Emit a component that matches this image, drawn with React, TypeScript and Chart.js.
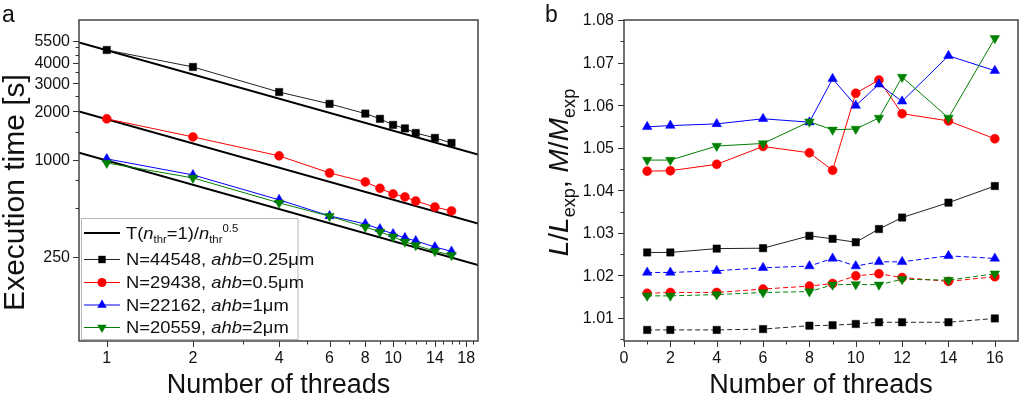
import React, { useEffect, useRef } from 'react';
import { Chart, registerables } from 'chart.js';
Chart.register(...registerables);

const FONT = '"Liberation Sans", Arial, Helvetica, sans-serif';

// ---------- Panel a: execution time ----------
const threadsA = [1, 2, 4, 6, 8, 9, 10, 11, 12, 14, 16];
const timeN44548 = [4820, 3780, 2640, 2230, 1940, 1800, 1650, 1570, 1470, 1370, 1275];
const timeN29438 = [1800, 1390, 1060, 830, 730, 666, 615, 589, 556, 510, 482];
const timeN22162 = [1015, 807, 565, 449, 400, 372, 347, 328, 314, 288, 270];
const timeN20559 = [958, 773, 541, 447, 383, 357, 333, 310, 295, 271, 256];
const idealT1 = [4800, 1790, 990];
const idealExponent = 0.5;
const xRangeA = [0.8, 19.8];
const yRangeA = [75, 7400];
const xTicksMajorA = [1, 2, 4, 6, 8, 10, 14, 18];
const xTicksMinorA = [3, 5, 7, 9, 11, 12, 13, 15, 16, 17, 19];
const yTicksMajorA = [250, 1000, 2000, 3000, 4000, 5500];
const yTicksMinorA = [500, 750, 1500, 2500, 3500, 4500, 5000];

// ---------- Panel b: L/Lexp (solid), M/Mexp (dashed) ----------
const threadsB = [1, 2, 4, 6, 8, 9, 10, 11, 12, 14, 16];
const L_N44548 = [1.0254, 1.0254, 1.0263, 1.0264, 1.0293, 1.0286, 1.0278, 1.0309, 1.0336, 1.0371, 1.041];
const L_N29438 = [1.0445, 1.0446, 1.0461, 1.0503, 1.0488, 1.0447, 1.0628, 1.0659, 1.058, 1.0563, 1.0521];
const L_N22162 = [1.0549, 1.0552, 1.0556, 1.0568, 1.056, 1.0662, 1.0599, 1.0649, 1.0609, 1.0716, 1.0681];
const L_N20559 = [1.0471, 1.0471, 1.0504, 1.051, 1.0561, 1.0542, 1.0544, 1.057, 1.0666, 1.057, 1.0757];
const M_N44548 = [1.0072, 1.0072, 1.0072, 1.0074, 1.0082, 1.0083, 1.0086, 1.009, 1.009, 1.009, 1.0099];
const M_N29438 = [1.0158, 1.016, 1.016, 1.0168, 1.0175, 1.0181, 1.0199, 1.0204, 1.0195, 1.0186, 1.0197];
const M_N22162 = [1.0207, 1.0207, 1.0211, 1.0218, 1.0222, 1.024, 1.0222, 1.0232, 1.0232, 1.0246, 1.024];
const M_N20559 = [1.0152, 1.0152, 1.0155, 1.016, 1.0162, 1.0178, 1.0179, 1.0178, 1.0191, 1.0189, 1.0204];
const xRangeB = [0, 17];
const yRangeB = [1.0046, 1.08];
const xTicksMajorB = [0, 2, 4, 6, 8, 10, 12, 14, 16];
const xTicksMinorB = [1, 3, 5, 7, 9, 11, 13, 15, 17];
const yTicksMajorB = [1.01, 1.02, 1.03, 1.04, 1.05, 1.06, 1.07, 1.08];
const yTicksMinorB = [1.005, 1.015, 1.025, 1.035, 1.045, 1.055, 1.065, 1.075];

const BLACK = '#000000';
const RED = '#ff0000';
const BLUE = '#0000ff';
const GREEN = '#008000';

const seriesStyle = [
  { color: BLACK, line: '#222222', pointStyle: 'rect', radius: 5.2, rotation: 0 },
  { color: RED, line: RED, pointStyle: 'circle', radius: 4.5, rotation: 0 },
  { color: BLUE, line: BLUE, pointStyle: 'triangle', radius: 5.5, rotation: 0 },
  { color: GREEN, line: GREEN, pointStyle: 'triangle', radius: 5.5, rotation: 180 },
];

type Seg = { t: string; it?: boolean; sub?: boolean; sup?: boolean };

function drawRich(
  ctx: CanvasRenderingContext2D, segs: Seg[], x: number, y: number, size: number,
  align: 'left' | 'center', smallRatio = 0.65, sx = 1
) {
  const small = size * smallRatio;
  const fontFor = (s: Seg) => `${s.it ? 'italic ' : ''}${s.sub || s.sup ? small : size}px ${FONT}`;
  let total = 0;
  const widths = segs.map((s) => {
    ctx.font = fontFor(s);
    const w = ctx.measureText(s.t).width;
    total += w;
    return w;
  });
  ctx.save();
  ctx.translate(x, y);
  ctx.scale(sx, 1);
  let cx = align === 'center' ? -total / 2 : 0;
  ctx.textAlign = 'left';
  ctx.textBaseline = 'alphabetic';
  segs.forEach((s, i) => {
    ctx.font = fontFor(s);
    const dy = s.sub ? size * 0.25 : s.sup ? -size * 0.42 : 0;
    ctx.fillText(s.t, cx, dy);
    cx += widths[i];
  });
  ctx.restore();
}

function drawMarker(ctx: CanvasRenderingContext2D, idx: number, x: number, y: number) {
  const st = seriesStyle[idx];
  ctx.fillStyle = st.color;
  ctx.beginPath();
  if (st.pointStyle === 'rect') {
    const s = st.radius * Math.SQRT1_2;
    ctx.rect(x - s, y - s, 2 * s, 2 * s);
  } else if (st.pointStyle === 'circle') {
    ctx.arc(x, y, st.radius, 0, Math.PI * 2);
  } else {
    const r = st.radius;
    const sgn = st.rotation ? -1 : 1;
    ctx.moveTo(x, y - sgn * r);
    ctx.lineTo(x + r * 0.866, y + sgn * r * 0.5);
    ctx.lineTo(x - r * 0.866, y + sgn * r * 0.5);
    ctx.closePath();
  }
  ctx.fill();
}

function drawAxesDecor(
  chart: any,
  xMaj: number[], xMin: number[], yMaj: number[], yMin: number[],
  xFmt: (v: number) => string, yFmt: (v: number) => string, yLabelGap: number
) {
  const { ctx, chartArea: a, scales } = chart;
  const x = scales.x;
  const y = scales.y;
  ctx.save();
  ctx.strokeStyle = '#333';
  ctx.lineWidth = 1;
  ctx.beginPath();
  xMaj.forEach((v) => { const p = Math.round(x.getPixelForValue(v)) + 0.5; ctx.moveTo(p, a.bottom); ctx.lineTo(p, a.bottom + 6); });
  xMin.forEach((v) => { const p = Math.round(x.getPixelForValue(v)) + 0.5; if (p < a.right - 1) { ctx.moveTo(p, a.bottom); ctx.lineTo(p, a.bottom + 3.5); } });
  yMaj.forEach((v) => { const p = Math.round(y.getPixelForValue(v)) + 0.5; ctx.moveTo(a.left, p); ctx.lineTo(a.left - 6, p); });
  yMin.forEach((v) => { const p = Math.round(y.getPixelForValue(v)) + 0.5; ctx.moveTo(a.left, p); ctx.lineTo(a.left - 3.5, p); });
  ctx.stroke();
  ctx.strokeStyle = '#444';
  ctx.lineWidth = 1.5;
  ctx.strokeRect(a.left, a.top, a.right - a.left, a.bottom - a.top);
  ctx.fillStyle = '#111';
  ctx.font = `16px ${FONT}`;
  ctx.textAlign = 'center';
  ctx.textBaseline = 'middle';
  xMaj.forEach((v) => ctx.fillText(xFmt(v), x.getPixelForValue(v), a.bottom + 18));
  ctx.textAlign = 'right';
  yMaj.forEach((v) => ctx.fillText(yFmt(v), a.left - yLabelGap, y.getPixelForValue(v) + 1));
  ctx.restore();
}

const decoA = {
  id: 'decoA',
  afterDraw(chart: any) {
    const { ctx, chartArea: a } = chart;
    drawAxesDecor(chart, xTicksMajorA, xTicksMinorA, yTicksMajorA, yTicksMinorA, (v) => String(v), (v) => String(v), 9);
    ctx.save();
    ctx.fillStyle = '#111';
    // panel letter
    ctx.font = `23px ${FONT}`;
    ctx.textAlign = 'left';
    ctx.textBaseline = 'alphabetic';
    ctx.fillText('a', 2, 22);
    // x title
    ctx.font = `27px ${FONT}`;
    ctx.textAlign = 'center';
    ctx.fillText('Number of threads', (a.left + a.right) / 2, 393);
    // y title
    ctx.save();
    ctx.translate(24, 192.5);
    ctx.rotate(-Math.PI / 2);
    ctx.font = `30px ${FONT}`;
    ctx.textAlign = 'center';
    ctx.fillText('Execution time [s]', 0, 0);
    ctx.restore();
    // legend
    const lx = 81.5, ly = 218.5, lw = 216.5, lh = 121;
    ctx.fillStyle = '#ffffff';
    ctx.fillRect(lx, ly, lw, lh);
    ctx.strokeStyle = '#b8b8b8';
    ctx.lineWidth = 1;
    ctx.strokeRect(lx, ly, lw, lh);
    const rows = [233, 259, 282, 304.5, 327];
    ctx.fillStyle = '#111';
    ctx.strokeStyle = '#000';
    ctx.lineWidth = 2;
    ctx.beginPath();
    ctx.moveTo(84, rows[0]);
    ctx.lineTo(120, rows[0]);
    ctx.stroke();
    drawRich(ctx, [
      { t: 'T(' }, { t: 'n', it: true }, { t: 'thr', sub: true }, { t: '=1)/' },
      { t: 'n', it: true }, { t: 'thr', sub: true }, { t: '0.5', sup: true },
    ], 126, rows[0] + 6, 17, 'left', 0.62, 1.08);
    const labels = [
      ['N=44548, ', '=0.25\u03BCm'],
      ['N=29438, ', '=0.5\u03BCm'],
      ['N=22162, ', '=1\u03BCm'],
      ['N=20559, ', '=2\u03BCm'],
    ];
    labels.forEach((lab, i) => {
      const yy = rows[i + 1];
      ctx.strokeStyle = seriesStyle[i].line;
      ctx.lineWidth = 1;
      ctx.beginPath();
      ctx.moveTo(84, yy + 0.5);
      ctx.lineTo(120, yy + 0.5);
      ctx.stroke();
      drawMarker(ctx, i, 102, yy + 0.5);
      ctx.fillStyle = '#111';
      drawRich(ctx, [{ t: lab[0] }, { t: 'ahb', it: true }, { t: lab[1] }], 126, yy + 6, 17, 'left', 0.62, 1.08);
    });
    ctx.restore();
  },
};

const decoB = {
  id: 'decoB',
  afterDraw(chart: any) {
    const { ctx, chartArea: a } = chart;
    drawAxesDecor(chart, xTicksMajorB, xTicksMinorB, yTicksMajorB, yTicksMinorB, (v) => String(v), (v) => v.toFixed(2), 10);
    ctx.save();
    ctx.fillStyle = '#111';
    ctx.font = `23px ${FONT}`;
    ctx.textAlign = 'left';
    ctx.textBaseline = 'alphabetic';
    ctx.fillText('b', 33, 22);
    ctx.font = `27px ${FONT}`;
    ctx.textAlign = 'center';
    ctx.fillText('Number of threads', (a.left + a.right) / 2, 393);
    ctx.save();
    ctx.translate(a.left - 56, 172.5);
    ctx.rotate(-Math.PI / 2);
    drawRich(ctx, [
      { t: 'L', it: true }, { t: '/' }, { t: 'L', it: true }, { t: 'exp', sub: true }, { t: ', ' },
      { t: 'M', it: true }, { t: '/' }, { t: 'M', it: true }, { t: 'exp', sub: true },
    ], 0, 0, 28, 'center');
    ctx.restore();
    ctx.restore();
  },
};

function mkSeries(xs: number[], ys: number[], idx: number, dashed: boolean, order: number) {
  const st = seriesStyle[idx];
  return {
    data: xs.map((x, i) => ({ x, y: ys[i] })),
    borderColor: st.line,
    backgroundColor: st.color,
    borderWidth: 1,
    borderDash: dashed ? [5, 3] : [],
    pointStyle: st.pointStyle,
    pointRotation: st.rotation,
    pointRadius: st.radius,
    pointBackgroundColor: st.color,
    pointBorderColor: st.color,
    pointBorderWidth: 0.5,
    tension: 0,
    fill: false,
    order,
  };
}

function idealLine(t1: number) {
  return {
    data: xRangeA.map((x) => ({ x, y: t1 / Math.pow(x, idealExponent) })),
    borderColor: '#000',
    borderWidth: 2,
    pointRadius: 0,
    tension: 0,
    fill: false,
    order: 10,
  };
}

export default function App() {
  const refA = useRef<HTMLCanvasElement>(null);
  const refB = useRef<HTMLCanvasElement>(null);

  useEffect(() => {
    const chartA = new Chart(refA.current as HTMLCanvasElement, {
      type: 'line',
      data: {
        datasets: [
          ...idealT1.map(idealLine),
          mkSeries(threadsA, timeN44548, 0, false, 4),
          mkSeries(threadsA, timeN29438, 1, false, 3),
          mkSeries(threadsA, timeN22162, 2, false, 2),
          mkSeries(threadsA, timeN20559, 3, false, 1),
        ] as any,
      },
      options: {
        animation: false,
        responsive: false,
        maintainAspectRatio: false,
        events: [],
        layout: { padding: { left: 79, top: 20, right: 34, bottom: 58 } },
        plugins: { legend: { display: false }, tooltip: { enabled: false } },
        scales: {
          x: { type: 'logarithmic', min: xRangeA[0], max: xRangeA[1], display: false },
          y: { type: 'logarithmic', min: yRangeA[0], max: yRangeA[1], display: false },
        },
      } as any,
      plugins: [decoA],
    });
    const chartB = new Chart(refB.current as HTMLCanvasElement, {
      type: 'line',
      data: {
        datasets: [
          mkSeries(threadsB, L_N44548, 0, false, 4),
          mkSeries(threadsB, L_N29438, 1, false, 3),
          mkSeries(threadsB, L_N22162, 2, false, 2),
          mkSeries(threadsB, L_N20559, 3, false, 1),
          mkSeries(threadsB, M_N44548, 0, true, 8),
          mkSeries(threadsB, M_N29438, 1, true, 7),
          mkSeries(threadsB, M_N22162, 2, true, 6),
          mkSeries(threadsB, M_N20559, 3, true, 5),
        ] as any,
      },
      options: {
        animation: false,
        responsive: false,
        maintainAspectRatio: false,
        events: [],
        layout: { padding: { left: 112, top: 20, right: 3, bottom: 58 } },
        plugins: { legend: { display: false }, tooltip: { enabled: false } },
        scales: {
          x: { type: 'linear', min: xRangeB[0], max: xRangeB[1], display: false },
          y: { type: 'linear', min: yRangeB[0], max: yRangeB[1], display: false },
        },
      } as any,
      plugins: [decoB],
    });
    return () => {
      chartA.destroy();
      chartB.destroy();
    };
  }, []);

  return (
    <div style={{ position: 'fixed', left: 0, top: 0, width: 1024, height: 399, background: '#fff', overflow: 'hidden' }}>
      <canvas ref={refA} width={512} height={399} style={{ position: 'absolute', left: 0, top: 0, width: 512, height: 399 }} />
      <canvas ref={refB} width={512} height={399} style={{ position: 'absolute', left: 512, top: 0, width: 512, height: 399 }} />
    </div>
  );
}
